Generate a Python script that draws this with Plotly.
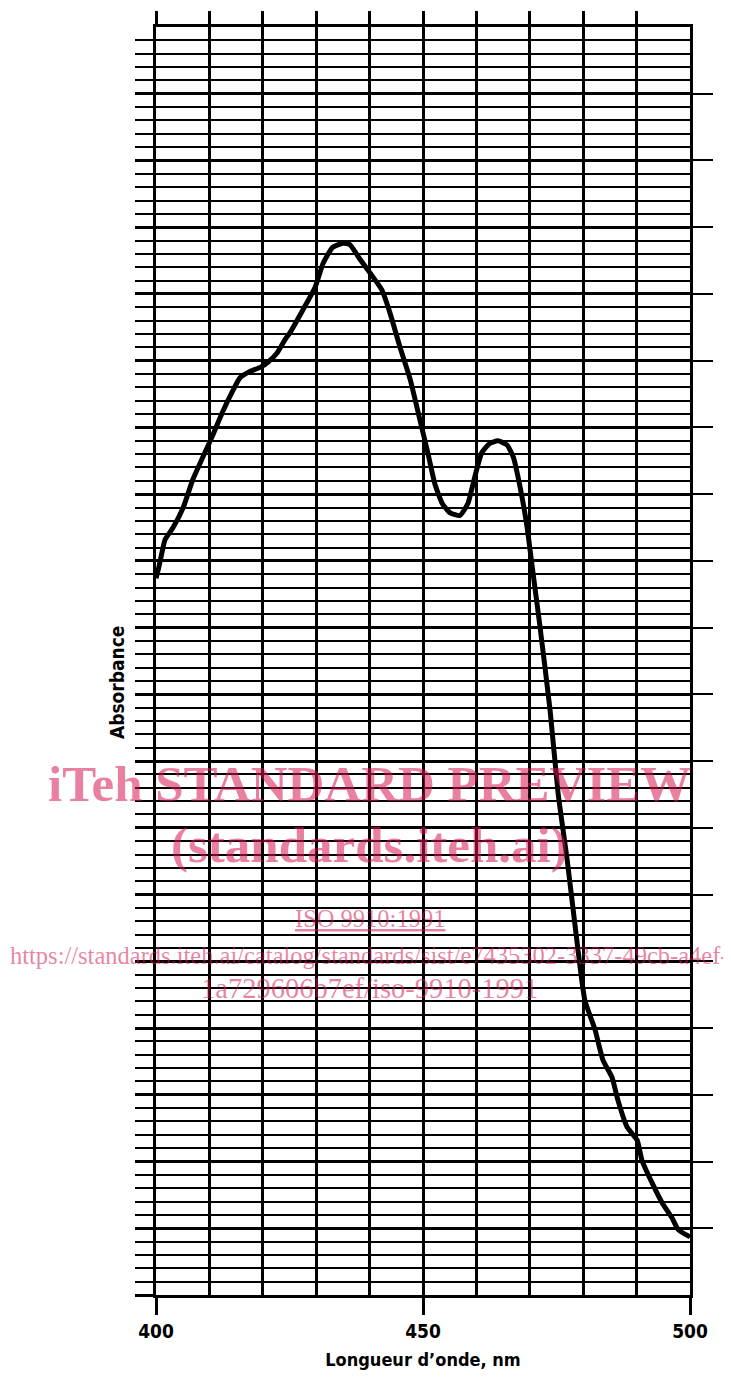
import numpy as np
import plotly.graph_objects as go

# Wavelength (nm) and absorbance (in chart divisions; 95 divisions full height)
wavelength = [400.0, 400.4, 401.1, 401.7, 403.2, 405.1, 406.9, 408.8, 410.5, 412.4,
              414.2, 415.7, 417.6, 419.5, 421.0, 422.7, 424.2, 425.1, 427.5, 429.8,
              431.3, 433.1, 435.0, 436.3, 438.2, 440.4, 442.3, 443.8, 445.7, 447.6,
              449.4, 450.9, 452.2, 453.6, 455.1, 456.9, 458.4, 459.7, 461.0, 462.5,
              464.0, 465.7, 466.9, 468.2, 469.5, 470.6, 471.9, 473.8, 475.3, 477.0,
              478.5, 480.3, 482.2, 483.7, 485.4, 486.5, 488.2, 490.1, 491.0, 492.9,
              494.8, 496.6, 497.8, 500.0]
absorbance = [53.7, 54.3, 55.6, 56.6, 57.5, 59.0, 61.1, 62.8, 64.3, 66.1,
              67.6, 68.7, 69.2, 69.5, 69.9, 70.6, 71.6, 72.1, 73.8, 75.5,
              77.3, 78.5, 78.8, 78.7, 77.6, 76.4, 75.3, 73.6, 71.0, 68.6,
              65.6, 63.1, 60.8, 59.3, 58.6, 58.4, 59.3, 61.3, 63.1, 63.8,
              64.0, 63.7, 62.8, 60.5, 57.5, 54.1, 50.1, 43.8, 37.6, 32.6,
              27.6, 22.1, 19.9, 17.6, 16.3, 14.6, 12.6, 11.6, 10.1, 8.4,
              6.9, 5.8, 4.9, 4.35]

x_tick_vals = [400, 450, 500]
x_tick_text = ["400", "450", "500"]
y_divisions = 95

x_title = "Longueur d’onde, nm"
y_title = "Absorbance"

wm_lines = ["iTeh STANDARD PREVIEW", "(standards.iteh.ai)", "ISO 9910:1991",
            "https://standards.iteh.ai/catalog/standards/sist/e7435302-3337-49cb-a4ef-",
            "1a729606b7ef/iso-9910-1991"]

fam = "DejaVu Sans Condensed, DejaVu Sans"
label_font = dict(family=fam, size=19, color="black", weight="bold")

y_major = list(range(0, y_divisions, 5))
y_minor = [v for v in range(1, y_divisions) if v % 5 != 0]

fig = go.Figure()
fig.add_trace(go.Scatter(x=wavelength, y=absorbance, mode="lines",
                         line=dict(color="black", width=5, shape="spline", smoothing=0.5),
                         hoverinfo="skip", showlegend=False))
fig.add_trace(go.Scatter(x=wavelength, y=absorbance, mode="lines", xaxis="x2", yaxis="y2",
                         line=dict(color="rgba(0,0,0,0)", width=0), opacity=0,
                         hoverinfo="skip", showlegend=False))

fig.update_layout(
    width=723, height=1370,
    margin=dict(l=148, r=41, t=19, b=83),
    paper_bgcolor="white", plot_bgcolor="white",
    xaxis=dict(range=[400, 500], tickmode="array", tickvals=x_tick_vals, ticktext=x_tick_text,
               ticks="outside", ticklen=17, tickwidth=2.5, tickcolor="black",
               showgrid=True, gridcolor="black", gridwidth=2.5, automargin=False,
               minor=dict(tick0=400, dtick=10, showgrid=True, gridcolor="black", gridwidth=2.5, ticks=""),
               showline=True, linecolor="black", linewidth=3, mirror=True,
               tickfont=label_font, zeroline=False,
               title=dict(text=x_title, font=dict(family=fam, size=18, color="black", weight="bold"), standoff=13)),
    xaxis2=dict(overlaying="x", side="top", anchor="y", range=[400, 500], automargin=False,
                tickmode="array", tickvals=list(range(400, 500, 10)),
                ticks="outside", ticklen=15, tickwidth=2.5, tickcolor="black",
                showticklabels=False, showgrid=False, showline=False, zeroline=False),
    yaxis=dict(range=[0, y_divisions], tickmode="array", tickvals=y_major, automargin=False,
               ticks="outside", ticklen=18, tickwidth=2.5, tickcolor="black",
               showticklabels=False, showgrid=True, gridcolor="black", gridwidth=2.5,
               minor=dict(tickmode="array", tickvals=y_minor, ticks="outside", ticklen=18,
                          tickwidth=2, tickcolor="black", showgrid=True, gridcolor="black", gridwidth=2),
               showline=True, linecolor="black", linewidth=3, mirror=True, zeroline=False),
    yaxis2=dict(overlaying="y", side="right", anchor="x", range=[0, y_divisions], automargin=False,
                tickmode="array", tickvals=y_major[1:],
                ticks="outside", ticklen=22, tickwidth=2, tickcolor="black",
                showticklabels=False, showgrid=False, showline=False, zeroline=False),
)

# y-axis title (placed slightly below the plot centre, as in the original)
fig.add_annotation(text=y_title, xref="paper", yref="paper", x=-0.073, y=0.4834,
                   xanchor="center", yanchor="middle", textangle=-90, showarrow=False,
                   font=dict(family=fam, size=19, color="black", weight="bold"))

wm_color = "rgba(215,20,80,0.54)"
wm_x = 0.4007
wm_specs = [(wm_lines[0], 0.403, 51, "<b>{}</b>"),
            (wm_lines[1], 0.355, 51, "<b>{}</b>"),
            (wm_lines[2], 0.2973, 24.5, "<u>{}</u>"),
            (wm_lines[3], 0.2681, 24.5, "{}"),
            (wm_lines[4], 0.2421, 28.5, "{}")]
for txt, yy, sz, fmt in wm_specs:
    fig.add_annotation(text=fmt.format(txt), xref="paper", yref="paper", x=wm_x, y=yy,
                       xanchor="center", yanchor="middle", showarrow=False,
                       font=dict(family="Liberation Serif, Times New Roman, serif", size=sz, color=wm_color))

fig.write_html("out.html")
